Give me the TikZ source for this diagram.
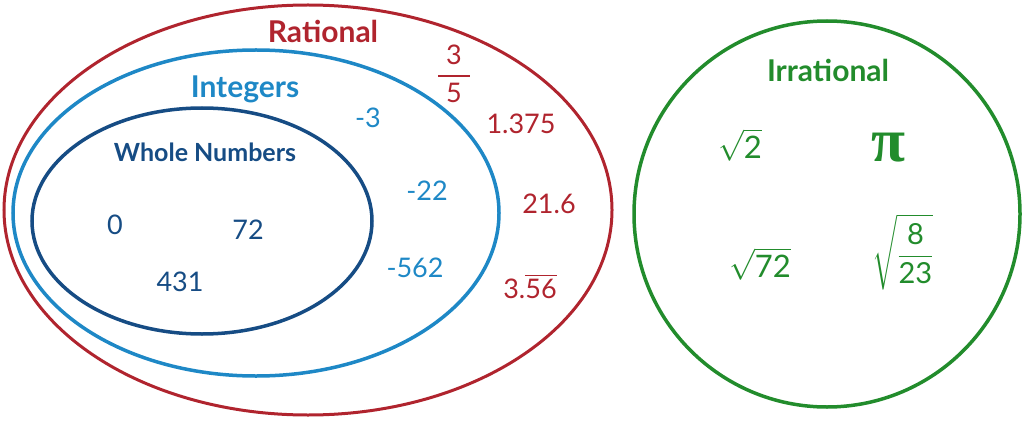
\RequirePackage{fix-cm}
\documentclass[tikz,border=0pt]{standalone}
\usepackage{amsmath}
\usepackage{fontspec}
\setmainfont{Lato}
\newfontfamily\pifont{Liberation Serif}
\definecolor{ratred}{RGB}{176,36,46}
\definecolor{intblue}{RGB}{30,136,198}
\definecolor{wholeblue}{RGB}{22,76,132}
\definecolor{irrgreen}{RGB}{34,140,44}
\begin{document}
\begin{tikzpicture}[x=1pt,y=-1pt,
  settitle/.style={font=\bfseries\fontsize{30}{34}\selectfont},
  ratnum/.style={text=ratred,font=\fontsize{27}{30}\selectfont},
  intnum/.style={text=intblue,font=\fontsize{27}{30}\selectfont},
  wholenum/.style={text=wholeblue,font=\fontsize{27}{30}\selectfont},
  irrnum/.style={text=irrgreen,font=\fontsize{31}{34}\selectfont}]
\useasboundingbox (0,0) rectangle (1024,422);
% the nested sets
\draw[ratred,line width=3pt] (308,210) ellipse [x radius=304pt,y radius=205pt];
\draw[intblue,line width=3.5pt] (256,213) ellipse [x radius=243pt,y radius=163pt];
\draw[wholeblue,line width=3.5pt] (202,221) ellipse [x radius=170pt,y radius=113pt];
\draw[irrgreen,line width=3.5pt] (827,214) circle [radius=193pt];
% titles
\node[settitle,text=ratred] (rational) at (323,31) {Rational};
\node[settitle,text=intblue] (integers) at (245,89) {Integers};
\node[settitle,text=wholeblue,font=\bfseries\fontsize{25}{30}\selectfont] (whole) at (205,152) {Whole Numbers};
\node[settitle,text=irrgreen] (irrational) at (828,70) {Irrational};
% whole numbers
\node[wholenum] (zero) at (115,225) {0};
\node[wholenum] (seventytwo) at (248,230) {72};
\node[wholenum] (fourthirtyone) at (180,282) {431};
% integers
\node[intnum] (mthree) at (368,118) {-3};
\node[intnum] (mtwentytwo) at (427,191) {-22};
\node[intnum] (mfivesixtytwo) at (415,268) {-562};
% rationals
\node[ratnum] (threefifths) at (454,74) {$\genfrac{}{}{2pt}{0}{\mbox{\hspace{8pt}3\hspace{8pt}}}{\mbox{5}}$};
\node[ratnum] (onethree) at (521,124) {1.375};
\node[ratnum] (twentyone) at (549,204) {21.6};
\node[ratnum] (threefive) at (530,286) {3.$\overline{\mbox{56}}$};
% irrationals
\node[irrnum] (roottwo) at (740,145) {$\sqrt{\mbox{2}}$};
\node[irrnum,font=\pifont\bfseries\fontsize{62}{64}\selectfont] (pi) at (888,148) {π};
\node[irrnum] (rootseventytwo) at (760,264) {$\sqrt{\mbox{72}}$};
\node[irrnum,font=\fontsize{29}{32}\selectfont] (rootfrac) at (903,252) {$\sqrt{\genfrac{}{}{1.6pt}{0}{\mbox{8}}{\mbox{23}}}$};
\end{tikzpicture}
\end{document}
